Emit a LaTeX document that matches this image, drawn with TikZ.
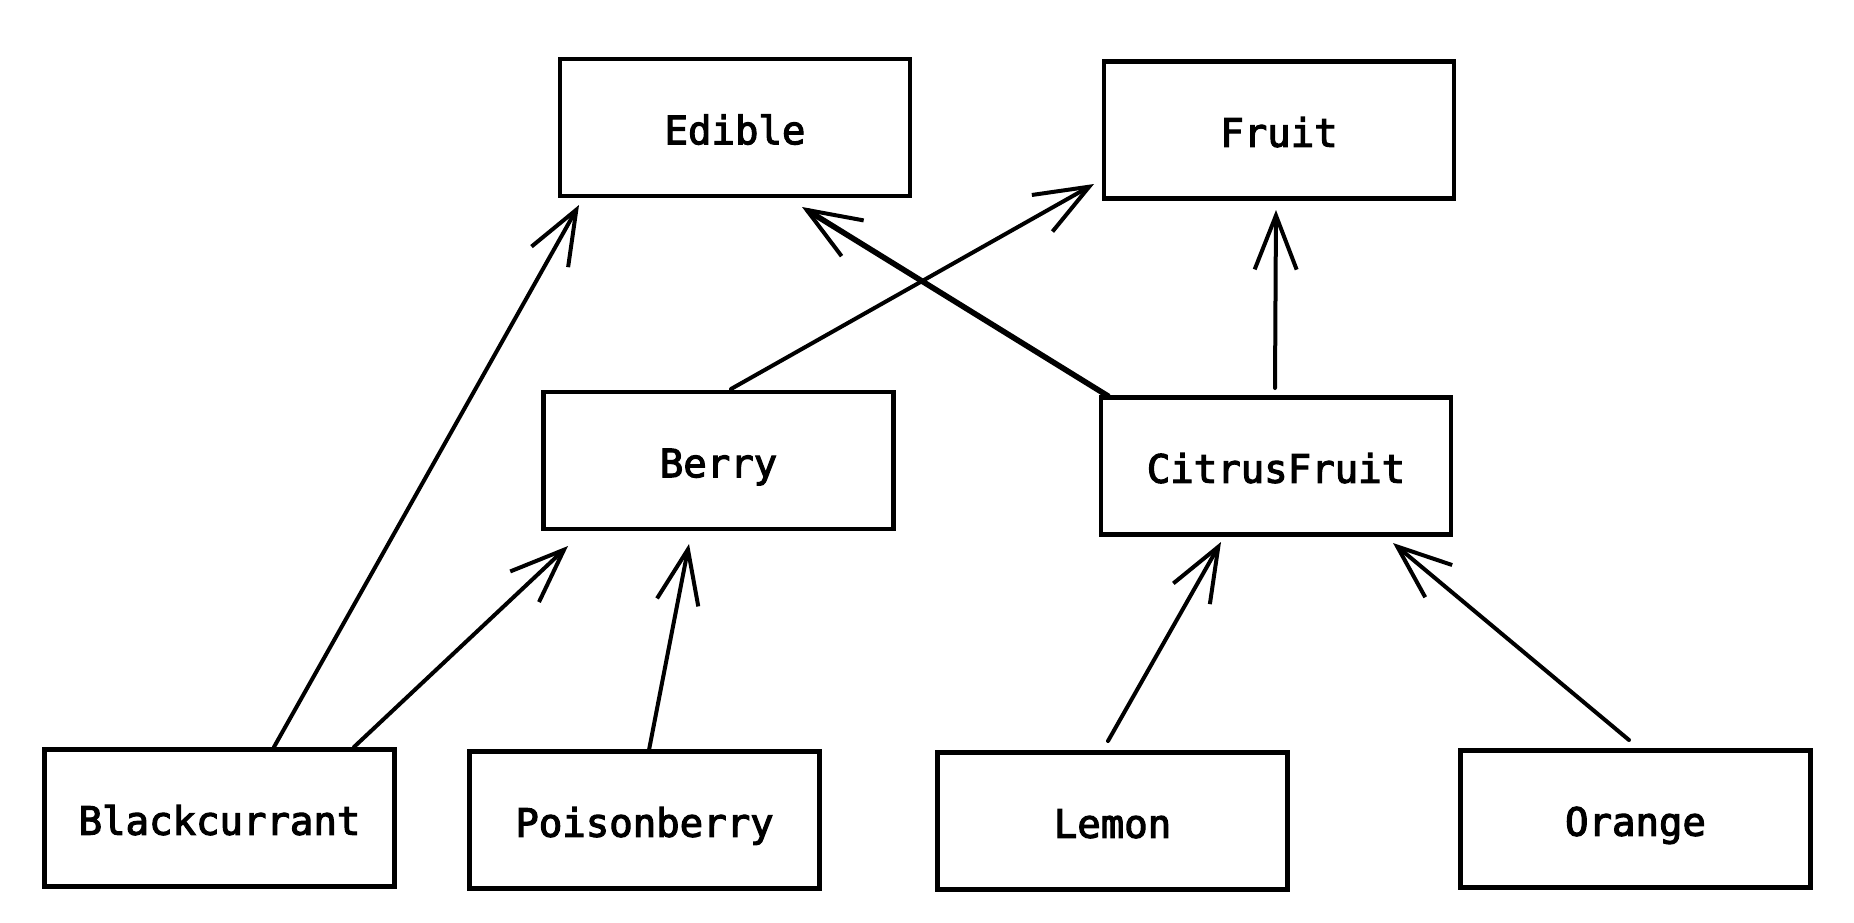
\documentclass[tikz,border=0pt]{standalone}
\usepackage{fontspec}
\newfontfamily\monofnt[FakeBold=3]{DejaVu Sans Mono}
\usetikzlibrary{arrows.meta,calc}
\tikzset{
  cls/.style={draw=black, line width=2.3pt, fill=white, minimum width=175pt, minimum height=68.5pt, inner sep=0pt, text height=18pt, text depth=1.3pt, font=\monofnt\fontsize{19.5}{22}\selectfont},
  inh/.style={line width=2pt, line cap=round, -{Straight Barb[length=27pt,width=21pt,line width=2pt]}},
}
\begin{document}
\begin{tikzpicture}[x=0.5pt,y=-0.5pt]
\useasboundingbox (0,0) rectangle (1854,922);
\node[cls] (edible) at (735,127.5) {Edible};
\node[cls] (fruit) at (1279,130) {Fruit};
\node[cls] (berry) at (718.5,460.5) {Berry};
\node[cls] (citrus) at (1276,466) {CitrusFruit};
\node[cls] (bc) at (219.5,818) {Blackcurrant};
\node[cls] (pb) at (644.5,820) {Poisonberry};
\node[cls] (lemon) at (1112.5,821) {Lemon};
\node[cls] (orange) at (1635.5,819) {Orange};

\draw[inh] ($(bc.center)+(54.5,-71)$) -- ($(edible.center)+(-156,77.5)$);
\draw[inh] ($(bc.center)+(134.5,-71)$) -- ($(berry.center)+(-150.5,85.5)$);
\draw[inh] ($(pb.center)+(4.5,-70)$) -- ($(berry.center)+(-29.5,83.5)$);
\draw[inh] ($(berry.center)+(12.5,-71.5)$) -- ($(fruit.center)+(-185,54)$);
\draw[inh, line width=2.8pt] ($(citrus.center)+(-168,-70)$) -- ($(edible.center)+(67,79.5)$);
\draw[inh] ($(citrus.center)+(-1,-78)$) -- ($(fruit.center)+(-3,80)$);
\draw[inh] ($(lemon.center)+(-4.5,-80)$) -- ($(citrus.center)+(-55,76)$);
\draw[inh] ($(orange.center)+(-6.5,-79)$) -- ($(citrus.center)+(117,77)$);
\end{tikzpicture}
\end{document}
